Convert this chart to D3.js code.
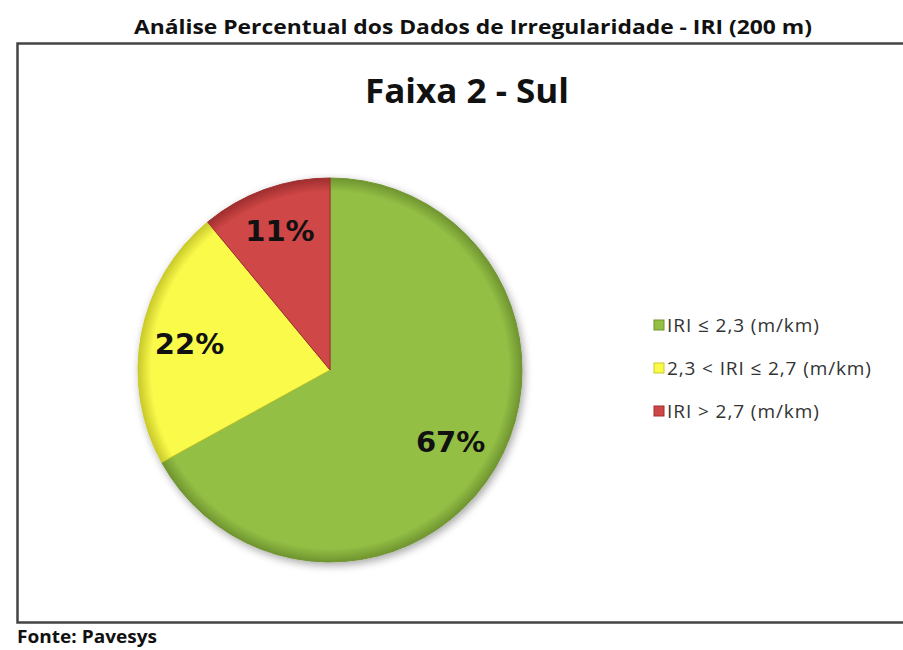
<!DOCTYPE html>
<html>
<head>
<meta charset="utf-8">
<script src="https://cdn.jsdelivr.net/npm/d3@7"></script>
<style>
  body { margin: 0; background: #fff; }
  svg { display: block; }
</style>
</head>
<body>
<svg id="chart" width="903" height="650"></svg>
<script>
/* global d3 */

let categories = ['IRI ≤ 2,3 (m/km)', '2,3 < IRI ≤ 2,7 (m/km)', 'IRI > 2,7 (m/km)']
let values = [67, 22, 11]
let labels = ['67%', '22%', '11%']
let colors = ['#93bf45', '#fafa4c', '#cf4646']
let darkColors = ['#6f9430', '#c9c92a', '#9e2e2e']

let svg = d3.select('#chart')
let defs = svg.append('defs')

let shadow = defs.append('filter').attr('id', 'shadow')
  .attr('x', '-20%').attr('y', '-20%').attr('width', '140%').attr('height', '140%')
shadow.append('feGaussianBlur').attr('in', 'SourceAlpha').attr('stdDeviation', 4)
shadow.append('feOffset').attr('dx', 2).attr('dy', 3).attr('result', 'b')
shadow.append('feComponentTransfer').append('feFuncA').attr('type', 'linear').attr('slope', 0.35)
let merge = shadow.append('feMerge')
merge.append('feMergeNode')
merge.append('feMergeNode').attr('in', 'SourceGraphic')

colors.forEach(function (c, i) {
  let grad = defs.append('radialGradient').attr('id', 'g' + i)
    .attr('gradientUnits', 'userSpaceOnUse')
    .attr('cx', 0).attr('cy', 0).attr('r', 192)
  grad.append('stop').attr('offset', '0%').attr('stop-color', c)
  grad.append('stop').attr('offset', '93%').attr('stop-color', c)
  grad.append('stop').attr('offset', '100%').attr('stop-color', darkColors[i])
})

// page title
svg.append('text')
  .text('Análise Percentual dos Dados de Irregularidade - IRI (200 m)')
  .attr('x', 473).attr('y', 34)
  .attr('text-anchor', 'middle')
  .attr('textLength', 678)
  .attr('lengthAdjust', 'spacingAndGlyphs')
  .style('font-family', 'Open Sans, sans-serif')
  .style('font-weight', 'bold')
  .style('font-size', '19px')
  .attr('fill', '#111')

// frame
svg.append('rect')
  .attr('x', 17.5).attr('y', 43.5)
  .attr('width', 900).attr('height', 579)
  .attr('fill', '#fff')
  .attr('stroke', '#444')
  .attr('stroke-width', 2.5)

// chart title
svg.append('text')
  .text('Faixa 2 - Sul')
  .attr('x', 467).attr('y', 103)
  .attr('text-anchor', 'middle')
  .attr('textLength', 204)
  .attr('lengthAdjust', 'spacingAndGlyphs')
  .style('font-family', 'Open Sans, sans-serif')
  .style('font-weight', 'bold')
  .style('font-size', '34px')
  .attr('fill', '#111')

let radius = 192
let g = svg.append('g').attr('transform', 'translate(330,370)')

let pie = d3.pie().sort(null).value(d => d)
let arcs = pie(values)
let arc = d3.arc().innerRadius(0).outerRadius(radius)

g.append('g').attr('filter', 'url(#shadow)')
  .selectAll('path')
  .data(arcs)
  .enter().append('path')
  .attr('d', arc)
  .attr('fill', (d, i) => 'url(#g' + i + ')')
  .attr('stroke', (d, i) => darkColors[i])
  .attr('stroke-width', 1)

let labelRadius = [0.73, 0.745, 0.77]

g.selectAll('text.lbl')
  .data(arcs)
  .enter().append('text')
  .attr('class', 'lbl')
  .text((d, i) => labels[i])
  .attr('transform', function (d, i) {
    let r = radius * labelRadius[i]
    return 'translate(' + d3.arc().innerRadius(r).outerRadius(r).centroid(d) + ')'
  })
  .attr('text-anchor', 'middle')
  .attr('dy', '0.36em')
  .style('font-family', 'DejaVu Sans, sans-serif')
  .style('font-weight', 'bold')
  .style('font-size', '29px')
  .attr('fill', '#111')

// legend
let legendY = d3.scalePoint().domain(categories).range([325, 411])
let legend = svg.append('g')
categories.forEach(function (c, i) {
  let y = legendY(c)
  legend.append('rect')
    .attr('x', 654).attr('y', y - 5)
    .attr('width', 10).attr('height', 10)
    .attr('fill', colors[i])
    .attr('stroke', darkColors[i])
    .attr('stroke-width', 1)
  let t = legend.append('text')
    .text(c)
    .attr('x', 667).attr('y', y + 7)
    .style('font-family', 'Open Sans, sans-serif')
    .style('font-size', '19px')
    .attr('fill', '#333')
  let w = t.node().getComputedTextLength()
  t.attr('textLength', w * 1.1).attr('lengthAdjust', 'spacing')
})

// source
svg.append('text')
  .text('Fonte: Pavesys')
  .attr('x', 17).attr('y', 643)
  .attr('textLength', 140)
  .attr('lengthAdjust', 'spacingAndGlyphs')
  .style('font-family', 'Open Sans, sans-serif')
  .style('font-weight', 'bold')
  .style('font-size', '17px')
  .attr('fill', '#111')
</script>
</body>
</html>
